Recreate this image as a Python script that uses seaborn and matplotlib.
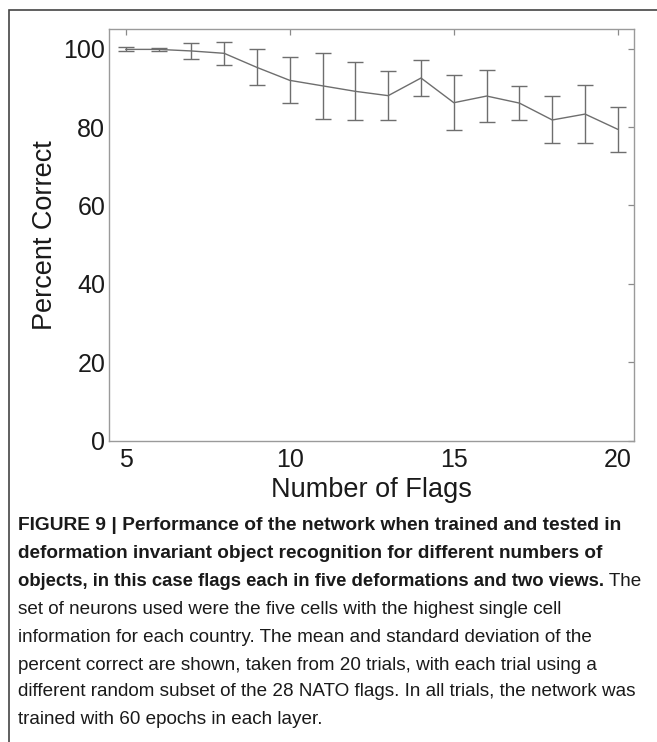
import matplotlib
matplotlib.use("Agg")
import matplotlib.pyplot as plt
import seaborn as sns
import pandas as pd
from matplotlib.patches import Rectangle

# ---- data ----
n_flags = [5, 6, 7, 8, 9, 10, 11, 12, 13, 14, 15, 16, 17, 18, 19, 20]
pct_mean = [99.8, 99.8, 99.4, 98.8, 95.2, 91.9, 90.5, 89.1, 88.0, 92.5, 86.2, 87.9, 86.1, 81.8, 83.3, 79.4]
pct_sd = [0.5, 0.4, 2.1, 3.0, 4.6, 5.9, 8.4, 7.4, 6.2, 4.7, 7.0, 6.6, 4.3, 6.0, 7.5, 5.8]
x_ticks = [5, 10, 15, 20]
y_ticks = [0, 20, 40, 60, 80, 100]

caption_bold = [
    "FIGURE 9 | Performance of the network when trained and tested in",
    "deformation invariant object recognition for different numbers of",
    "objects, in this case flags each in five deformations and two views.",
]
caption_rest_line3 = " The"
caption_regular = [
    "set of neurons used were the five cells with the highest single cell",
    "information for each country. The mean and standard deviation of the",
    "percent correct are shown, taken from 20 trials, with each trial using a",
    "different random subset of the 28 NATO flags. In all trials, the network was",
    "trained with 60 epochs in each layer.",
]

df = pd.DataFrame({"n": n_flags, "pct": pct_mean, "sd": pct_sd})

sns.set_theme(style="white")
plt.rcParams["font.family"] = ["Liberation Sans", "DejaVu Sans"]

W, H = 657, 742
fig = plt.figure(figsize=(W / 100, H / 100), dpi=100)

def fx(px):
    return px / W

def fy(py):
    return 1 - py / H

ax = fig.add_axes([fx(109.3), fy(440.7), fx(634.3) - fx(109.3), fy(29) - fy(440.7)])

line_col = "#6e6e6e"
sns.lineplot(data=df, x="n", y="pct", ax=ax, color=line_col, linewidth=1.0, errorbar=None)
ax.errorbar(df["n"], df["pct"], yerr=df["sd"], fmt="none", ecolor=line_col,
            elinewidth=1.0, capsize=6, capthick=1.0)

ax.set_xlim(4.5, 20.5)
ax.set_ylim(0, 105)
ax.set_xticks(x_ticks)
ax.set_yticks(y_ticks)
ax.set_xticklabels([str(t) for t in x_ticks])
ax.set_yticklabels([str(t) for t in y_ticks])
ax.tick_params(axis="both", direction="in", length=4.5, width=0.9, color="#8a8a8a",
               labelsize=18, labelcolor="#1a1a1a", top=True, right=True)
ax.tick_params(axis="x", pad=5)
ax.tick_params(axis="y", pad=3)
for s in ax.spines.values():
    s.set_color("#9a9a9a")
    s.set_linewidth(1.0)
ax.set_xlabel("Number of Flags", fontsize=19.5, color="#1a1a1a", labelpad=3.5)
ax.set_ylabel("Percent Correct", fontsize=19.5, color="#1a1a1a", labelpad=4)
ax.grid(False)

# outer frame
fig.patches.append(Rectangle((fx(9), fy(760)), 1.2, fy(10) - fy(760), transform=fig.transFigure,
                             fill=False, edgecolor="#444444", linewidth=1.2))

# caption
renderer = fig.canvas.get_renderer()

def measure(s, weight="normal", base=14):
    t = fig.text(0, -1, s, fontsize=base, weight=weight)
    w = t.get_window_extent(renderer).width
    t.remove()
    return w

bold_targets = [604, 587, 592]
ys = [525, 553, 581, 609, 637, 665, 692, 720]
fs_reg = 14 * 622 / measure(caption_regular[3])
last = None
for i, s in enumerate(caption_bold):
    fs_b = 14 * bold_targets[i] / measure(s, weight="bold")
    last = fig.text(fx(18), fy(ys[i]), s, fontsize=fs_b, weight="bold", color="#1a1a1a",
                    ha="left", va="center")
bb = last.get_window_extent(renderer)
fig.text(bb.x1 / W, fy(ys[2]), caption_rest_line3, fontsize=fs_reg, color="#1a1a1a",
         ha="left", va="center")
for i, s in enumerate(caption_regular):
    fig.text(fx(18), fy(ys[3 + i]), s, fontsize=fs_reg, color="#1a1a1a", ha="left", va="center")

fig.savefig("out.png", dpi=100, facecolor="white")
